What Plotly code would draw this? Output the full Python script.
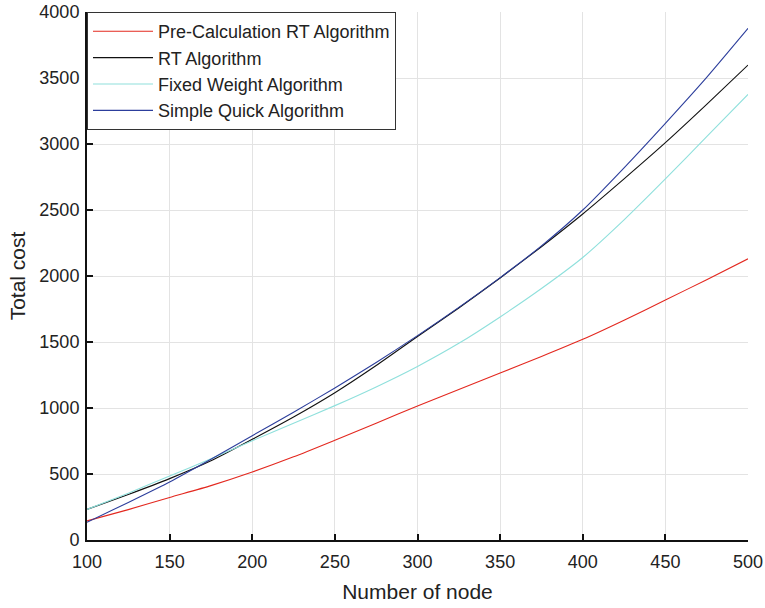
import plotly.graph_objects as go

nodes = [100, 125, 150, 175, 200, 225, 250, 275, 300, 325, 350, 375, 400, 425, 450, 475, 500]
pre_calc_rt = [145, 230, 322, 412, 515, 630, 756, 885, 1015, 1140, 1265, 1390, 1520, 1665, 1818, 1972, 2130]
rt_alg = [232, 345, 465, 600, 763, 932, 1116, 1322, 1542, 1758, 1985, 2222, 2470, 2736, 3010, 3300, 3598]
fixed_weight = [232, 355, 485, 615, 752, 885, 1018, 1160, 1315, 1490, 1690, 1905, 2140, 2425, 2735, 3055, 3376]
simple_quick = [134, 285, 440, 612, 790, 968, 1152, 1345, 1548, 1762, 1988, 2228, 2500, 2820, 3157, 3505, 3876]

series = [
    ("Pre-Calculation RT Algorithm", pre_calc_rt, "#e3281f"),
    ("RT Algorithm", rt_alg, "#111111"),
    ("Fixed Weight Algorithm", fixed_weight, "#8fe0dc"),
    ("Simple Quick Algorithm", simple_quick, "#2c3e9c"),
]

fig = go.Figure()
for name, vals, col in series:
    fig.add_trace(go.Scatter(
        x=nodes, y=vals, name=name, mode="lines",
        line=dict(color=col, width=1.1, shape="spline", smoothing=0.6),
    ))

font_family = "Liberation Sans, Arial, sans-serif"
fig.update_layout(
    width=765, height=608,
    margin=dict(l=87, r=17, t=12, b=68, autoexpand=False),
    paper_bgcolor="white", plot_bgcolor="white",
    font=dict(family=font_family, size=18, color="#222"),
    showlegend=True,
    legend=dict(
        x=0.0, y=1.0, xanchor="left", yanchor="top",
        bgcolor="white", bordercolor="#333", borderwidth=1,
        font=dict(size=18, color="#222"),
        itemwidth=60, tracegroupgap=0,
    ),
)
fig.update_xaxes(
    range=[100, 500], tickmode="linear", tick0=100, dtick=50,
    showgrid=True, gridcolor="#e3e3e3", gridwidth=1,
    showline=True, linecolor="#111", linewidth=2,
    ticks="inside", ticklen=6, tickwidth=2, tickcolor="#111",
    zeroline=False, tickfont=dict(size=18), automargin=False,
    ticklabelstandoff=4, ticklabeloverflow="allow",
    title=dict(text="Number of node", font=dict(size=21), standoff=14),
)
fig.update_yaxes(
    range=[0, 4000], tickmode="linear", tick0=0, dtick=500,
    showgrid=True, gridcolor="#e3e3e3", gridwidth=1,
    showline=True, linecolor="#111", linewidth=2,
    ticks="inside", ticklen=6, tickwidth=2, tickcolor="#111",
    zeroline=False, tickfont=dict(size=18), automargin=False,
    ticklabelstandoff=2, ticklabeloverflow="allow",
    title=dict(text="Total cost", font=dict(size=21), standoff=8),
)

fig.write_html(
    "out.html",
    config={"displayModeBar": False},
    post_script="document.body.style.margin='0';document.body.style.overflow='hidden';",
)
